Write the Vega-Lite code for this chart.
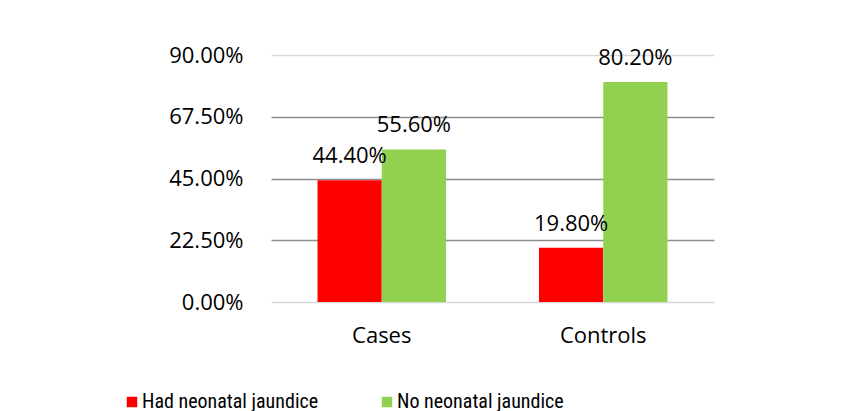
{
  "$schema": "https://vega.github.io/schema/vega-lite/v6.json",
  "width": 443,
  "height": 247,
  "autosize": "none",
  "padding": {"left": 271, "top": 55, "right": 141, "bottom": 109},
  "background": "white",
  "data": {
    "values": [
      {"group": "Cases", "status": "Had neonatal jaundice", "value": 0.444, "label": "44.40%"},
      {"group": "Cases", "status": "No neonatal jaundice", "value": 0.556, "label": "55.60%"},
      {"group": "Controls", "status": "Had neonatal jaundice", "value": 0.198, "label": "19.80%"},
      {"group": "Controls", "status": "No neonatal jaundice", "value": 0.802, "label": "80.20%"}
    ]
  },
  "encoding": {
    "x": {
      "field": "group", "type": "nominal",
      "scale": {"paddingInner": 0.42, "paddingOuter": 0.21},
      "axis": {"title": null, "labelAngle": 0, "domain": false, "ticks": false, "labelPadding": 23, "labelFontSize": 22, "labelColor": "#000000", "labelFont": "Open Sans"}
    },
    "xOffset": {"field": "status", "type": "nominal"},
    "y": {
      "field": "value", "type": "quantitative",
      "scale": {"domain": [0, 0.9], "nice": false},
      "axis": {
        "title": null, "values": [0, 0.225, 0.45, 0.675, 0.9], "format": ".2%",
        "domain": false, "ticks": false, "labelPadding": 28, "labelFontSize": 22,
        "labelColor": "#000000", "labelFont": "Open Sans",
        "gridColor": {"condition": {"test": "datum.value === 0 || datum.value === 0.9", "value": "#d9d9d9"}, "value": "#8c8c8c"},
        "gridWidth": 1.5
      }
    }
  },
  "layer": [
    {
      "mark": {"type": "bar"},
      "encoding": {
        "color": {
          "field": "status", "type": "nominal",
          "scale": {"domain": ["Had neonatal jaundice", "No neonatal jaundice"], "range": ["#ff0000", "#92d050"]},
          "legend": {
            "title": null, "orient": "none", "direction": "horizontal",
            "legendX": -149, "legendY": 337,
            "symbolType": "square", "symbolSize": 110, "symbolStrokeWidth": 0,
            "labelFontSize": 20, "labelFont": "Roboto Condensed, Liberation Sans", "labelColor": "#000000",
            "labelOffset": 0, "columnPadding": 58, "labelLimit": 300
          }
        }
      }
    },
    {
      "mark": {"type": "text", "baseline": "alphabetic", "dy": -17, "fontSize": 22, "font": "Open Sans", "color": "#000000"},
      "encoding": {"text": {"field": "label"}}
    }
  ],
  "config": {"view": {"stroke": null}}
}
